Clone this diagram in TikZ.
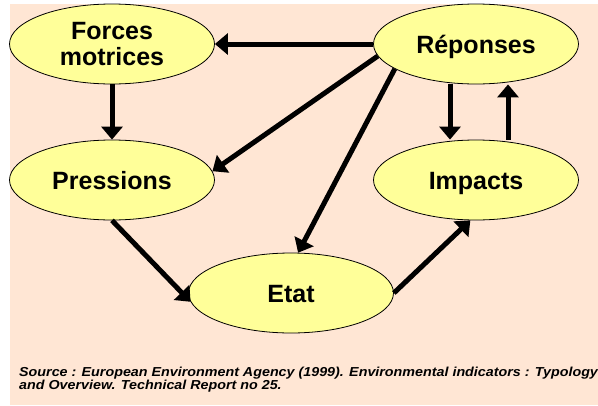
\documentclass[tikz,border=0pt]{standalone}
\usepackage{fontspec}
\setmainfont{Liberation Sans}
\usetikzlibrary{shapes.geometric,arrows.meta}
\definecolor{bgpeach}{HTML}{FFE6D4}
\definecolor{ellfill}{HTML}{FFFF99}
\tikzset{
  blob/.style={ellipse, draw=black, line width=0.8pt, fill=ellfill,
    minimum width=205pt, minimum height=80pt, inner sep=0pt, align=center,
    font=\fontsize{25}{26}\selectfont\bfseries},
  oneline/.style={text height=18pt, text depth=0pt},
  conn/.style={line width=5pt, -{Triangle[length=13pt,width=21pt]}}
}
\begin{document}
\begin{tikzpicture}[x=1pt,y=-1pt]
\useasboundingbox (0,0) rectangle (598,405);
\fill[bgpeach] (10,4) rectangle (598,405);
\node[blob] (forces) at (112,44) {Forces\\motrices};
\node[blob,oneline] (rep) at (476,44) {Réponses};
\node[blob,oneline] (press) at (112,180) {Pressions};
\node[blob,oneline] (imp) at (476,180) {Impacts};
\node[blob,oneline] (etat) at (291,293) {Etat};
\draw[conn] (rep.west) -- (forces.east);
\draw[conn] (forces.south) -- (press.north);
\draw[conn] (rep.187) -- (press.5);
\draw[conn] (rep.197) -- (etat.80);
\draw[conn] ([xshift=-26pt]rep.south) -- ([xshift=-26pt]imp.north);
\draw[conn] ([xshift=32pt]imp.north) -- ([xshift=32pt]rep.south);
\draw[conn] (press.south) -- (etat.185);
\draw[conn] (etat.east) -- (imp.262);
\node[anchor=base west, inner sep=0pt, align=left,
  font=\fontsize{13}{13}\selectfont\bfseries\itshape] (src) at (19,389)
  {\scalebox{1.1}[1]{Source : European Environment Agency (1999). Environmental indicators : Typology}\\
   \scalebox{1.1}[1]{and Overview. Technical Report no 25.}};
\end{tikzpicture}
\end{document}
